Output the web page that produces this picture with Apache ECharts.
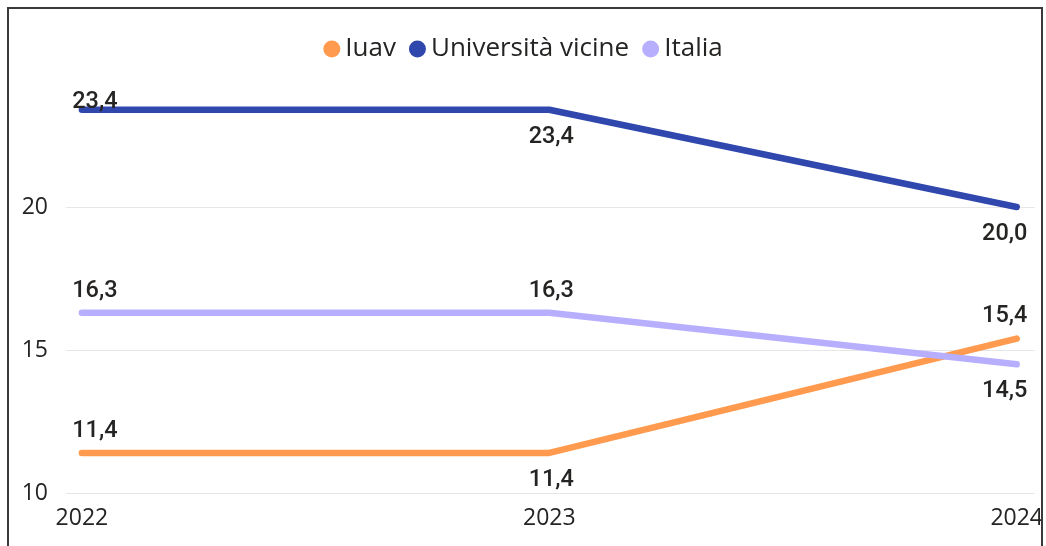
<!DOCTYPE html>
<html>
<head>
<meta charset="utf-8">
<script src="https://cdn.jsdelivr.net/npm/echarts@6/dist/echarts.min.js"></script>
<style>
    html, body {
        margin: 0;
        padding: 0;
        background: #fff;
    }
    #chart {
        width: 1046px;
        height: 546px;
    }
    .frame {
        position: absolute;
        left: 7px;
        top: 7px;
        width: 1032px;
        height: 580px;
        border: 2px solid #3a3a3a;
        pointer-events: none;
    }
</style>
</head>
<body>
<div id="chart"></div>
<div class="frame"></div>
<script>
// dati
const years = [2022, 2023, 2024]
const iuav = [11.4, 11.4, 15.4]
const vicine = [23.4, 23.4, 20.0]
const italia = [16.3, 16.3, 14.5]
const yTicks = [10, 15, 20]

const seriesNames = ['Iuav', 'Università vicine', 'Italia']
const colors = ['#FF9A4F', '#3047AD', '#B7AFFD']

// lato dell'etichetta per ogni punto
const labelSide = [
    ['top', 'bottom', 'top'],
    ['over', 'bottom', 'bottom'],
    ['top', 'top', 'bottom']
]

const fmt = v => v.toFixed(1).replace('.', ',')

const buildData = (values, sides) => values.map((v, i) => {
    const side = sides[i]
    const dy = side === 'top' ? -22 : side === 'bottom' ? 27 : -8
    const dx = i === 0 ? 13 : i === values.length - 1 ? -12 : 2
    return {
        value: [years[i], v],
        label: { offset: [dx, dy] }
    }
})

const chart = echarts.init(document.getElementById('chart'))

const option = {
    animation: false,
    color: colors,
    legend: {
        top: 31,
        left: 'center',
        padding: [5, 0, 5, 14],
        icon: 'circle',
        itemWidth: 17,
        itemHeight: 17,
        itemGap: 13,
        textStyle: {
            fontFamily: 'Open Sans',
            fontSize: 26,
            color: '#252423'
        },
        data: seriesNames
    },
    grid: {
        left: 66,
        right: 6,
        top: 64,
        bottom: 53
    },
    xAxis: {
        type: 'value',
        min: 2022 - 0.034,
        max: 2024 + 0.038,
        axisLine: { show: false },
        axisTick: { show: false, customValues: years },
        splitLine: { show: false },
        axisLabel: {
            customValues: years,
            margin: 14,
            fontFamily: 'Open Sans',
            fontSize: 23,
            color: '#252423',
            formatter: v => String(v)
        }
    },
    yAxis: {
        type: 'value',
        min: 10,
        max: 25,
        axisLine: { show: false },
        axisTick: { show: false, customValues: yTicks },
        splitLine: {
            lineStyle: { color: '#E6E6E6', width: 1 }
        },
        axisLabel: {
            customValues: yTicks,
            margin: 18,
            fontFamily: 'Open Sans',
            fontSize: 23,
            color: '#252423'
        }
    },
    series: [iuav, vicine, italia].map((vals, k) => ({
        name: seriesNames[k],
        type: 'line',
        data: buildData(vals, labelSide[k]),
        symbol: 'circle',
        symbolSize: 1,
        showSymbol: true,
        lineStyle: { width: 6.5, cap: 'round', join: 'round' },
        itemStyle: { color: colors[k] },
        label: {
            show: true,
            position: 'inside',
            fontFamily: 'Roboto',
            fontSize: 23.5,
            fontWeight: 500,
            color: '#252423',
            formatter: p => fmt(p.value[1])
        },
        emphasis: { disabled: true }
    }))
}

chart.setOption(option)
</script>
</body>
</html>
